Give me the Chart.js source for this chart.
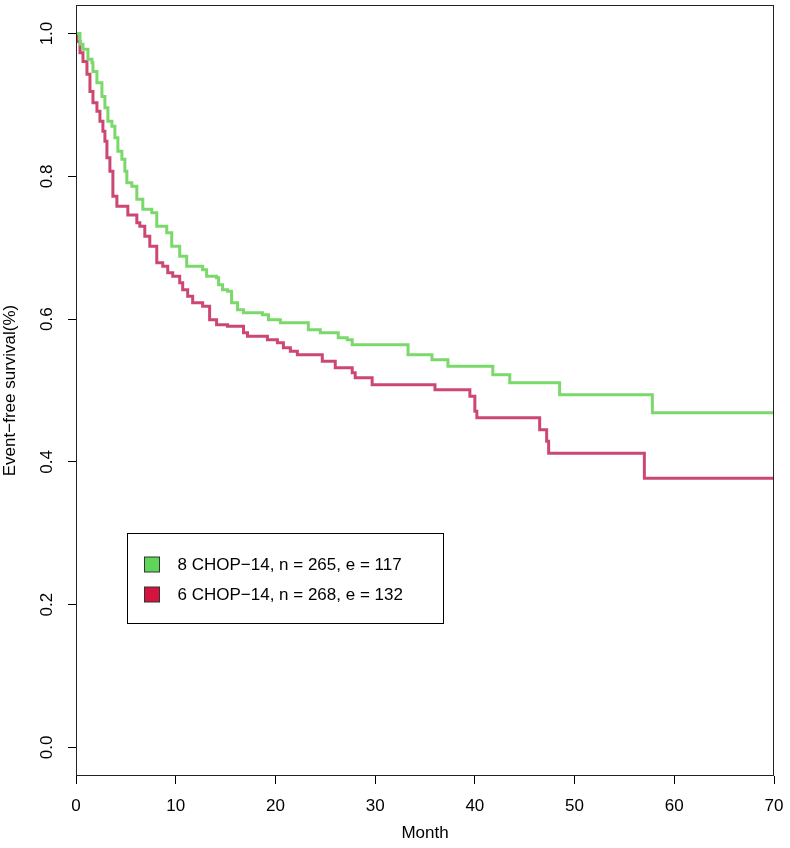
<!DOCTYPE html>
<html>
<head>
<meta charset="utf-8">
<script src="https://cdn.jsdelivr.net/npm/chart.js@4/dist/chart.umd.min.js"></script>
<style>
  html, body { margin: 0; padding: 0; background: #fff; }
</style>
</head>
<body>
<canvas id="km" width="790" height="848"></canvas>
<script>
// Kaplan-Meier steps: month of each drop, survival after it
const monthsEight = [0, 0.4, 0.7, 1.2, 1.6, 1.7, 2.1, 2.6, 2.9, 3.2, 3.6, 3.9, 4.2, 4.6, 4.9, 5.1, 5.6, 6.1, 6.7, 7.6, 8.1, 9.1, 9.6, 10.4, 11.1, 12.7, 13.1, 14.1, 14.3, 14.7, 15.2, 15.6, 16.2, 16.8, 18.7, 19.3, 20.5, 23.3, 24.5, 26.3, 27.2, 27.7, 33.3, 35.7, 37.3, 41.8, 43.5, 48.5, 57.8, 70];
const survEight = [1.0, 0.985, 0.978, 0.964, 0.959, 0.947, 0.931, 0.912, 0.896, 0.877, 0.870, 0.854, 0.835, 0.824, 0.807, 0.791, 0.786, 0.768, 0.754, 0.749, 0.730, 0.721, 0.702, 0.688, 0.674, 0.669, 0.660, 0.658, 0.648, 0.641, 0.639, 0.623, 0.613, 0.609, 0.606, 0.599, 0.595, 0.585, 0.581, 0.574, 0.571, 0.564, 0.550, 0.543, 0.534, 0.522, 0.511, 0.494, 0.469, 0.469];

const monthsSix = [0, 0.1, 0.4, 0.7, 1.1, 1.4, 1.7, 2.1, 2.4, 2.7, 2.9, 3.1, 3.4, 3.7, 4.1, 5.2, 6.1, 6.4, 6.9, 7.4, 8.1, 8.7, 9.2, 9.7, 10.4, 10.7, 11.2, 11.7, 12.7, 13.4, 14.1, 15.2, 16.8, 17.2, 19.2, 20.2, 20.8, 21.5, 22.2, 24.7, 26.0, 27.7, 28.0, 29.7, 36.0, 39.5, 40.0, 40.2, 46.5, 47.2, 47.4, 57.0, 70];
const survSix = [1.0, 0.989, 0.973, 0.961, 0.943, 0.919, 0.903, 0.891, 0.877, 0.863, 0.849, 0.826, 0.807, 0.772, 0.758, 0.746, 0.735, 0.730, 0.716, 0.702, 0.679, 0.674, 0.665, 0.660, 0.651, 0.641, 0.632, 0.623, 0.618, 0.599, 0.592, 0.590, 0.581, 0.576, 0.571, 0.567, 0.560, 0.555, 0.550, 0.541, 0.532, 0.525, 0.518, 0.508, 0.501, 0.492, 0.471, 0.462, 0.445, 0.429, 0.412, 0.377, 0.377];

const seriesLabels = ['8 CHOP\u221214, n = 265, e = 117', '6 CHOP\u221214, n = 268, e = 132'];
const xTicks = [0, 10, 20, 30, 40, 50, 60, 70];
const yTicks = [0.0, 0.2, 0.4, 0.6, 0.8, 1.0];

const lineColors = ['#7bd96c', '#cc4873'];
const boxColors = ['#5ed65a', '#d4143f'];
const FONT = '"Liberation Sans", Arial, Helvetica, sans-serif';

const toPoints = (xs, ys) => xs.map((x, i) => ({ x: x, y: ys[i] }));

// R-style box around the plot region plus the legend box
const rFrame = {
  id: 'rFrame',
  afterDatasetsDraw(chart) {
    const { ctx, chartArea: a, scales } = chart;
    ctx.save();
    ctx.strokeStyle = '#222';
    ctx.lineWidth = 1;
    const l = Math.round(a.left) + 0.5, t = Math.round(a.top) + 0.5;
    const r = Math.round(a.right) - 0.5, b = Math.round(a.bottom) - 0.5;
    ctx.strokeRect(l, t, r - l, b - t);

    // legend anchored in data coordinates
    const lx = Math.round(scales.x.getPixelForValue(5.1)) + 0.5;
    const ly = Math.round(scales.y.getPixelForValue(0.300)) + 0.5;
    const lw = 316, lh = 90;
    ctx.fillStyle = '#fff';
    ctx.fillRect(lx, ly, lw, lh);
    ctx.strokeStyle = '#000';
    ctx.strokeRect(lx, ly, lw, lh);
    ctx.font = '17px ' + FONT;
    ctx.textBaseline = 'middle';
    ctx.textAlign = 'left';
    seriesLabels.forEach((lab, i) => {
      const cy = ly + 31 + i * 30;
      ctx.fillStyle = boxColors[i];
      ctx.fillRect(lx + 17, cy - 7.5, 15, 15);
      ctx.strokeStyle = '#333';
      ctx.strokeRect(lx + 17, cy - 7.5, 15, 15);
      ctx.fillStyle = '#000';
      ctx.fillText(lab, lx + 50, cy + 1);
    });
    ctx.restore();
  }
};

const ctx = document.getElementById('km').getContext('2d');
new Chart(ctx, {
  type: 'line',
  data: {
    datasets: [
      {
        label: seriesLabels[0],
        data: toPoints(monthsEight, survEight),
        borderColor: lineColors[0],
        borderWidth: 3,
        stepped: true,
        pointRadius: 0,
        fill: false
      },
      {
        label: seriesLabels[1],
        data: toPoints(monthsSix, survSix),
        borderColor: lineColors[1],
        borderWidth: 3,
        stepped: true,
        pointRadius: 0,
        fill: false
      }
    ]
  },
  options: {
    responsive: false,
    animation: false,
    layout: { padding: { top: 5, right: 16, bottom: 0, left: 0 } },
    plugins: {
      legend: { display: false },
      tooltip: { enabled: false }
    },
    scales: {
      x: {
        type: 'linear',
        min: 0,
        max: 70,
        afterBuildTicks: s => { s.ticks = xTicks.map(v => ({ value: v })); },
        afterFit: s => { s.height = 72; s.paddingLeft = 0; s.paddingRight = 0; },
        grid: { display: true, drawOnChartArea: false, tickLength: 8, color: '#000' },
        border: { display: false },
        ticks: { color: '#000', font: { family: FONT, size: 17 }, padding: 12, maxRotation: 0, callback: v => String(v) },
        title: { display: true, text: 'Month', color: '#000', font: { family: FONT, size: 17 }, padding: { top: 0, bottom: 4 } }
      },
      y: {
        type: 'linear',
        min: -0.04,
        max: 1.04,
        afterBuildTicks: s => { s.ticks = yTicks.map(v => ({ value: v })); },
        afterFit: s => { s.width = 76; s.paddingTop = 0; s.paddingBottom = 0; },
        grid: { display: true, drawOnChartArea: false, tickLength: 8, color: '#000' },
        border: { display: false },
        ticks: { color: '#000', font: { family: FONT, size: 17 }, padding: 9, minRotation: 90, maxRotation: 90, crossAlign: 'center', callback: v => v.toFixed(1) },
        title: { display: true, text: 'Event\u2212free survival(%)', color: '#000', font: { family: FONT, size: 17 }, padding: 0 }
      }
    }
  },
  plugins: [rFrame]
});
</script>
</body>
</html>
